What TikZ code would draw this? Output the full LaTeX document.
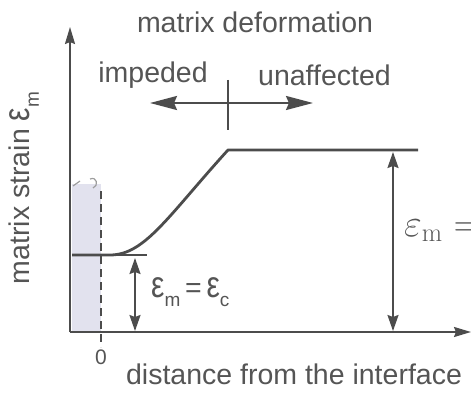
\documentclass[tikz,border=0pt]{standalone}
\usepackage{fontspec}
\setmainfont{Liberation Sans}
\newfontfamily\serifm{Latin Modern Roman}
\usetikzlibrary{arrows.meta}
\definecolor{ink}{HTML}{4C4C4C}
\definecolor{txt}{HTML}{555555}
\definecolor{shadecol}{HTML}{E2E2EE}
\newcommand{\mysub}[1]{\raisebox{-0.32em}{\fontsize{19}{19}\selectfont #1}}
\newcommand{\bigeps}{\scalebox{1.05}[1.3]{ε}}
\begin{document}
\begin{tikzpicture}[x=1pt,y=-1pt,
  lbl/.style={text=txt, font=\fontsize{28.5}{30}\selectfont, inner sep=0pt},
  axisline/.style={draw=ink, line width=2pt, -{Stealth[length=17pt,width=10pt,inset=2pt]}},
  dimline/.style={draw=ink, line width=1.8pt, {Stealth[length=16pt,width=11pt,inset=2pt]}-{Stealth[length=16pt,width=11pt,inset=2pt]}},
  bigdim/.style={draw=ink, line width=2.2pt, {Stealth[length=27pt,width=14pt,inset=3pt]}-{Stealth[length=27pt,width=14pt,inset=3pt]}},
  curveline/.style={draw=ink, line width=2.8pt},
  guide/.style={draw=ink, line width=1.5pt, dash pattern=on 8pt off 5pt}]
\useasboundingbox (0,0) rectangle (471,393);
% shaded interface region
\fill[shadecol] (72,184) rectangle (101,331);
\draw[ink!55, line width=1.2pt] (73,186) -- (80,181);
\draw[ink!55, line width=1.2pt] (90,179) .. controls (97,176) and (99,186) .. (93,188);
% coordinates
\coordinate (O) at (70,332);
\coordinate (ytop) at (70,27);
\coordinate (xend) at (471,332);
\coordinate (d0) at (101,191);
\coordinate (d1) at (101,347);
\coordinate (c0) at (72,255);
\coordinate (c1) at (110,255);
\coordinate (c2) at (228,150);
\coordinate (c3) at (418,150);
\coordinate (cx) at (147,255);
\coordinate (la) at (135,258);
\coordinate (lb) at (135,331);
\coordinate (ra) at (393,152);
\coordinate (rb) at (393,331);
\coordinate (ha) at (150,103);
\coordinate (hb) at (313,103);
\coordinate (ta) at (228,80);
\coordinate (tb) at (228,130);
% dashed guide
\draw[guide] (d0) -- (d1);
% axes
\draw[axisline] (O) -- (ytop);
\draw[axisline] (O) -- (xend);
% strain curve
\draw[draw=ink, line width=1.4pt] (c1) -- (cx);
\draw[curveline, line join=round] (c0) -- (c1) .. controls (145,255) and (168,216) .. (c2) -- (c3);
% dimension arrows
\draw[dimline] (la) -- (lb);
\draw[dimline] (ra) -- (rb);
% matrix deformation arrow
\draw[bigdim] (ha) -- (hb);
\draw[draw=ink, line width=2.4pt] (ta) -- (tb);
% texts
\node[lbl] (title) at (255,22) {matrix deformation};
\node[lbl] (imp) at (153,75) {impeded};
\node[lbl] (unaff) at (324.5,75) {unaffected};
\node[lbl, rotate=90] (ylab) at (24,188) {matrix strain \bigeps\mysub{m}};
\node[lbl, anchor=base west] (epsc) at (151,297) {\bigeps\mysub{m}\,=\,\bigeps\mysub{c}};
\node[lbl, anchor=base west, font=\fontsize{24}{24}\selectfont] (epsm) at (404,236) {\scalebox{1.55}{$\varepsilon_{\hbox{\serifm\fontsize{17}{17}\selectfont m}} =$}};
\node[lbl, font=\fontsize{21}{21}\selectfont] (zero) at (101,357) {0};
\node[lbl] (xlab) at (294,374) {distance from the interface};
\end{tikzpicture}
\end{document}
